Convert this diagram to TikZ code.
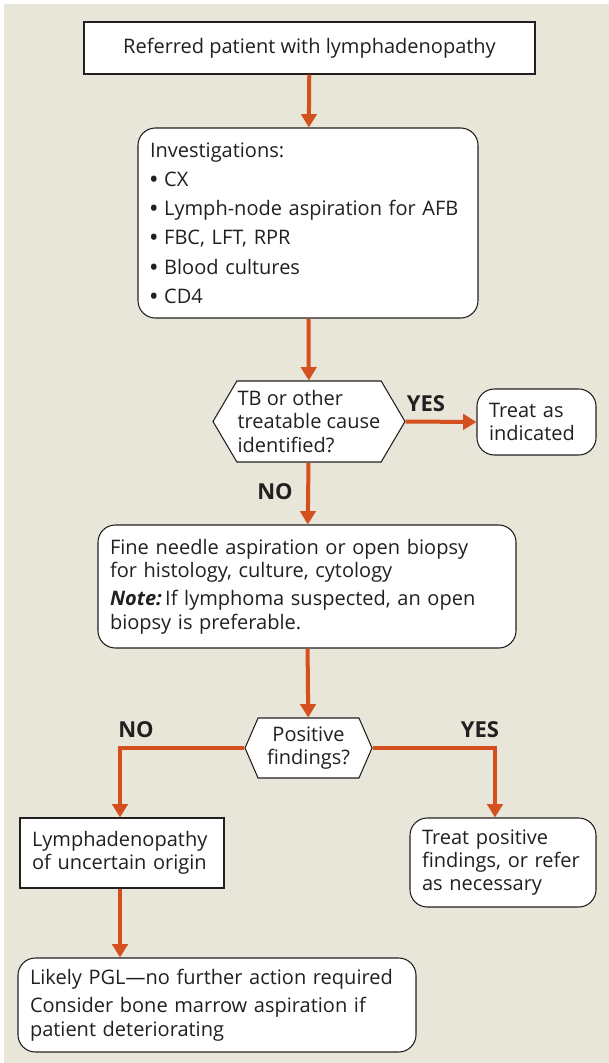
\documentclass[tikz,border=0pt]{standalone}
\usepackage{fontspec}
\setmainfont{Open Sans}
\usepackage{tikz}
\usetikzlibrary{arrows.meta,positioning,shapes.symbols}
\usepackage{xcolor}
\definecolor{pagebg}{HTML}{E8E5D9}
\definecolor{ink}{HTML}{231F20}
\definecolor{flow}{HTML}{D4501E}
\newdimen\pxu
\pxu=0.75pt
\newcommand{\bul}{\textbf{\textbullet}\ }
\tikzset{
  box/.style={draw=ink, fill=white, line width=0.8pt, text=ink, inner xsep=9pt, inner ysep=4pt, font=\fontsize{15}{17.4}\selectfont},
  sq/.style={box, align=center},
  rb/.style={box, rounded corners=13pt, align=left},
  hexq/.style={box, shape=signal, signal to=west and east, align=left, inner xsep=0pt, inner ysep=2pt},
  lbl/.style={font=\fontsize{16.5}{18}\selectfont\bfseries, text=ink, inner sep=0pt},
  arr/.style={-{Triangle[length=10pt, width=11.5pt]}, line width=3pt, color=flow},
}

\begin{document}
\begin{tikzpicture}[x=0.75pt, y=-0.75pt]
    \useasboundingbox (0,0) rectangle (609,1063);
    \fill[pagebg] (4,4) rectangle (609,1063);
    % main column
    \node[sq, minimum width=451\pxu, minimum height=52\pxu] (start) at (309.5,48) {Referred patient with lymphadenopathy};
    \node[rb, text width=316\pxu, minimum height=190\pxu, font=\fontsize{15}{21.9}\selectfont] (invest) at (308,223)
      {Investigations:\\\bul CX\\\bul Lymph-node aspiration for AFB\\\bul FBC, LFT, RPR\\\bul Blood cultures\\\bul CD4};
    \node[hexq, minimum width=192\pxu, minimum height=81\pxu, signal pointer angle=119] (q1) at (309,421.5) {TB or other\\treatable cause\\identified?};
    \node[rb, text width=95\pxu, minimum height=66\pxu] (treat1) at (536.5,422) {Treat as\\indicated};
    \node[rb, text width=394\pxu, minimum height=123\pxu] (fna) at (307,586.5)
      {Fine needle aspiration or open biopsy\\for histology, culture, cytology\\[4pt]\textbf{\textit{Note:}}\,If lymphoma suspected, an open\\biopsy is preferable.};
    \node[hexq, align=center, minimum width=127\pxu, minimum height=60\pxu, signal pointer angle=133] (q2) at (308.5,748) {Positive\\findings?};
    % branches
    \node[box, align=left, text width=180\pxu, minimum height=70\pxu] (uncertain) at (122,853) {Lymphadenopathy\\of uncertain origin};
    \node[rb, text width=162\pxu, minimum height=89\pxu] (treatpos) at (503,862.5) {Treat positive\\findings, or refer\\as necessary};
    \node[rb, text width=374\pxu, minimum height=94\pxu] (pgl) at (217,1005)
      {Likely PGL---no further action required\\[4pt]Consider bone marrow aspiration if\\patient deteriorating};
    % labels
    \node[lbl] (yes1) at (426,404) {YES};
    \node[lbl] (no1) at (275,492) {NO};
    \node[lbl] (no2) at (136,730) {NO};
    \node[lbl] (yes2) at (480,730) {YES};
    % connectors
    \draw[arr] (start) -- (invest);
    \draw[arr] (invest) -- (q1);
    \draw[arr] (q1.east) -- (treat1.west);
    \draw[arr] (q1) -- (fna);
    \draw[arr] (fna) -- (q2);
    \draw[arr] (q2.west) -| ([xshift=-2\pxu]uncertain.north);
    \draw[arr] (q2.east) -| ([xshift=-8\pxu]treatpos.north);
    \draw[arr] ([xshift=-2\pxu]uncertain.south) -- ([xshift=-2\pxu]uncertain.south |- pgl.north);
\end{tikzpicture}
\end{document}
